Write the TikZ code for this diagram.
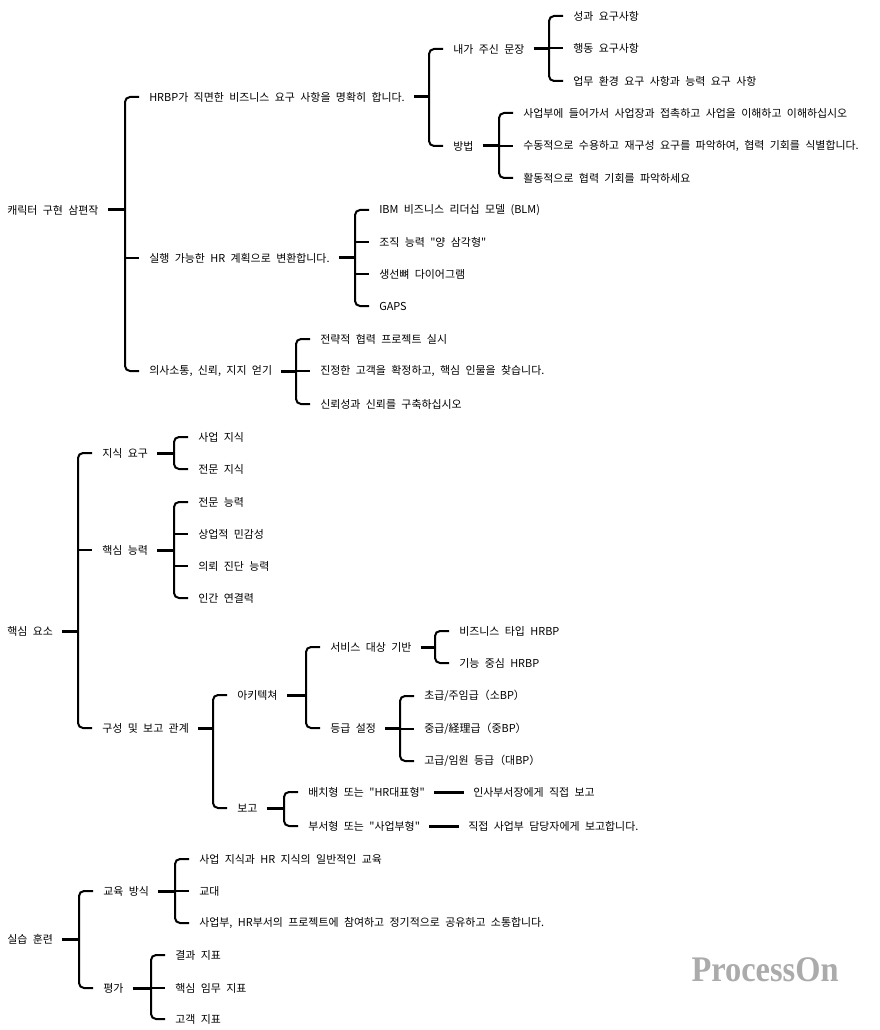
\documentclass[tikz,border=0pt]{standalone}
\usepackage{fontspec}
\newfontfamily\krfont[WordSpace=2.2]{Noto Sans CJK KR}
\newfontfamily\wmfont{Liberation Serif}
\tikzset{
  lbl/.style={anchor=west, inner sep=0pt, font=\krfont\fontsize{8.2pt}{10pt}\selectfont, text=black},
  bar/.style={line width=1.5pt, black},
  pstub/.style={line width=2.25pt, black},
}
\newcommand\brkII[3]{%
  \coordinate (v) at ([xshift=-18pt]#2.west);
  \draw[pstub] ([xshift=6.75pt]#1.east) -- (v |- #1.east);
  \draw[bar, rounded corners=3.75pt] ([xshift=-7.5pt]#2.west) -- (v) -- (v |- #3.west) -- ([xshift=-7.5pt]#3.west);
}
\newcommand\brk[4]{%
  \brkII{#1}{#2}{#3}%
  \foreach \cc in {#4}{\draw[bar] (v |- \cc.west) -- ([xshift=-7.5pt]\cc.west);}%
}
\begin{document}
\begin{tikzpicture}[x=0.75pt, y=-0.75pt]
\useasboundingbox[fill=white] (0,0) rectangle (880,1030);

% ---------- tree 1
\node[lbl] (r1) at (7,210) {캐릭터 구현 삼편작};
\node[lbl] (a1) at (149,97) {HRBP가 직면한 비즈니스 요구 사항을 명확히 합니다.};
\node[lbl] (a2) at (149,258) {실행 가능한 HR 계획으로 변환합니다.};
\node[lbl] (a3) at (149,371) {의사소통, 신뢰, 지지 얻기};
\node[lbl] (b1) at (453,49) {내가 주신 문장};
\node[lbl] (b2) at (453,146) {방법};
\node[lbl] (c1) at (573,16) {성과 요구사항};
\node[lbl] (c2) at (573,48) {행동 요구사항};
\node[lbl] (c3) at (573,81) {업무 환경 요구 사항과 능력 요구 사항};
\node[lbl] (d1) at (523,113) {사업부에 들어가서 사업장과 접촉하고 사업을 이해하고 이해하십시오};
\node[lbl] (d2) at (523,146) {수동적으로 수용하고 재구성 요구를 파악하여, 협력 기회를 식별합니다.};
\node[lbl] (d3) at (523,178) {활동적으로 협력 기회를 파악하세요};
\node[lbl] (e1) at (379,210) {IBM 비즈니스 리더십 모델 (BLM)};
\node[lbl] (e2) at (379,242) {조직 능력 "양 삼각형"};
\node[lbl] (e3) at (379,274) {생선뼈 다이어그램};
\node[lbl] (e4) at (379,306) {GAPS};
\node[lbl] (f1) at (320,339) {전략적 협력 프로젝트 실시};
\node[lbl] (f2) at (320,371) {진정한 고객을 확정하고, 핵심 인물을 찾습니다.};
\node[lbl] (f3) at (320,404) {신뢰성과 신뢰를 구축하십시오};

\brk{r1}{a1}{a3}{a2}
\brkII{a1}{b1}{b2}
\brk{b1}{c1}{c3}{c2}
\brk{b2}{d1}{d3}{d2}
\brk{a2}{e1}{e4}{e2,e3}
\brk{a3}{f1}{f3}{f2}

% ---------- tree 2
\node[lbl] (r2) at (7,631) {핵심 요소};
\node[lbl] (g1) at (102,453) {지식 요구};
\node[lbl] (g2) at (102,550) {핵심 능력};
\node[lbl] (g3) at (102,728) {구성 및 보고 관계};
\node[lbl] (h1) at (198,437) {사업 지식};
\node[lbl] (h2) at (198,469) {전문 지식};
\node[lbl] (i1) at (198,502) {전문 능력};
\node[lbl] (i2) at (198,534) {상업적 민감성};
\node[lbl] (i3) at (198,566) {의뢰 진단 능력};
\node[lbl] (i4) at (198,598) {인간 연결력};
\node[lbl] (j1) at (237,695) {아키텍쳐};
\node[lbl] (j2) at (237,808) {보고};
\node[lbl] (k1) at (330,647) {서비스 대상 기반};
\node[lbl] (k2) at (330,728) {등급 설정};
\node[lbl] (l1) at (459,631) {비즈니스 타입 HRBP};
\node[lbl] (l2) at (459,663) {기능 중심 HRBP};
\node[lbl] (m1) at (424,696) {초급/주임급（소BP）};
\node[lbl] (m2) at (424,729) {중급/経理급（중BP）};
\node[lbl] (m3) at (424,761) {고급/임원 등급（대BP）};
\node[lbl] (n1) at (308,792) {배치형 또는 "HR대표형"};
\node[lbl] (n2) at (308,826) {부서형 또는 "사업부형"};
\node[lbl] (o1) at (473,792) {인사부서장에게 직접 보고};
\node[lbl] (o2) at (468,826) {직접 사업부 담당자에게 보고합니다.};

\brk{r2}{g1}{g3}{g2}
\brkII{g1}{h1}{h2}
\brk{g2}{i1}{i4}{i2,i3}
\brkII{g3}{j1}{j2}
\brkII{j1}{k1}{k2}
\brkII{k1}{l1}{l2}
\brk{k2}{m1}{m3}{m2}
\brkII{j2}{n1}{n2}
\draw[pstub] ([xshift=6.75pt]n1.east) -- ([xshift=-6.75pt]o1.west);
\draw[pstub] ([xshift=6.75pt]n2.east) -- ([xshift=-6.75pt]o2.west);

% ---------- tree 3
\node[lbl] (r3) at (7,939) {실습 훈련};
\node[lbl] (p1) at (103,891) {교육 방식};
\node[lbl] (p2) at (103,988) {평가};
\node[lbl] (q1) at (199,859) {사업 지식과 HR 지식의 일반적인 교육};
\node[lbl] (q2) at (199,891) {교대};
\node[lbl] (q3) at (199,923) {사업부, HR부서의 프로젝트에 참여하고 정기적으로 공유하고 소통합니다.};
\node[lbl] (s1) at (175,955) {결과 지표};
\node[lbl] (s2) at (175,988) {핵심 임무 지표};
\node[lbl] (s3) at (175,1019) {고객 지표};

\brkII{r3}{p1}{p2}
\brk{p1}{q1}{q3}{q2}
\brk{p2}{s1}{s3}{s2}

% ---------- watermark
\node[inner sep=0pt, text=black!33, font=\wmfont\bfseries\fontsize{27pt}{30pt}\selectfont, xscale=0.9] (wm) at (765,970) {ProcessOn};
\end{tikzpicture}
\end{document}
